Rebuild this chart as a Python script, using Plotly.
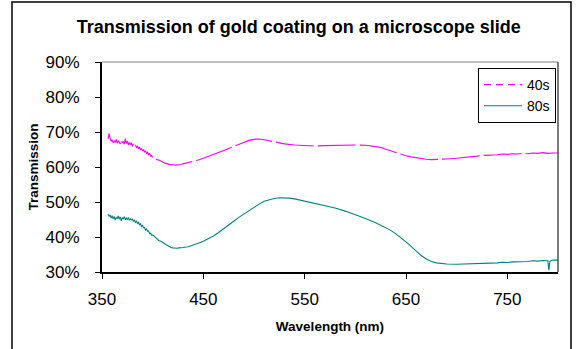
import plotly.graph_objects as go

# ---- data ----
wl_40 = [356, 357, 358, 359, 360, 361, 362, 363, 364, 365, 366, 367, 368, 369, 370,
         371, 372, 373, 374, 375, 376, 377, 378, 379, 380, 381, 382, 383, 384, 385,
         386, 387, 388, 389, 390, 391, 392, 393, 394, 395, 396, 397, 398, 399, 400,
         402, 404, 406, 408, 410, 412, 414, 416, 418, 420, 422, 424, 426, 428, 430,
         435, 440, 445, 450, 455, 460, 465, 470, 475, 480, 485, 490, 495, 500, 505,
         510, 515, 520, 525, 530, 540, 550, 560, 570, 580, 590, 600, 610, 620, 625,
         630, 635, 640, 645, 650, 655, 660, 665, 670, 675, 680, 685, 690, 700, 705,
         710, 715, 720, 725, 730, 735, 740, 745, 750, 755, 760, 765, 770, 775, 780,
         785, 790, 795, 800]
t_40 = [68.0, 69.6, 68.2, 67.3, 67.8, 66.9, 67.5, 67.0, 67.9, 66.8, 67.4, 67.1, 66.6, 67.7, 66.9,
        67.3, 66.5, 68.1, 66.7, 67.4, 66.3, 67.0, 66.4, 66.9, 65.9, 66.6, 65.8, 66.3, 65.6, 65.9,
        65.2, 65.7, 64.9, 65.3, 64.6, 65.0, 64.2, 64.6, 63.9, 64.2, 63.4, 63.9, 63.1, 63.3, 62.8,
        62.6, 62.1, 62.0, 61.6, 61.4, 61.1, 60.9, 60.7, 60.6, 60.7, 60.5, 60.6, 60.6, 60.7, 60.9,
        61.2, 61.6, 62.0, 62.5, 63.0, 63.5, 64.1, 64.7, 65.3, 65.9, 66.5, 67.1, 67.6, 67.9, 68.0,
        67.8, 67.5, 67.1, 66.8, 66.6, 66.3, 66.1, 66.0, 66.1, 66.2, 66.3, 66.3, 66.2, 65.9, 65.6,
        65.1, 64.6, 64.1, 63.6, 63.2, 62.9, 62.6, 62.4, 62.2, 62.1, 62.1, 62.2, 62.3, 62.5, 62.6,
        62.8, 63.0, 63.1, 63.3, 63.3, 63.5, 63.5, 63.7, 63.6, 63.8, 63.7, 63.9, 63.8, 64.0, 63.9,
        64.1, 63.9, 64.0, 64.0]

wl_80 = [356, 357, 358, 359, 360, 361, 362, 363, 364, 365, 366, 367, 368, 369, 370,
         371, 372, 373, 374, 375, 376, 377, 378, 379, 380, 381, 382, 383, 384, 385,
         386, 387, 388, 389, 390, 391, 392, 393, 394, 395, 396, 397, 398, 399, 400,
         402, 404, 406, 408, 410, 412, 414, 416, 418, 420, 422, 424, 426, 428, 430,
         435, 440, 445, 450, 455, 460, 465, 470, 475, 480, 485, 490, 495, 500, 505,
         510, 515, 520, 525, 530, 535, 540, 545, 550, 555, 560, 570, 580, 590, 600,
         610, 620, 630, 635, 640, 645, 650, 655, 660, 665, 670, 675, 680, 685, 690,
         700, 710, 720, 730, 740, 745, 750, 755, 760, 765, 770, 775, 780, 785, 790,
         791, 792, 795, 800]
t_80 = [46.6, 45.9, 46.3, 45.4, 46.1, 45.2, 45.9, 44.8, 45.6, 45.3, 46.0, 45.1, 45.7, 44.6, 45.5,
        45.2, 45.8, 44.9, 45.4, 45.0, 45.6, 44.8, 45.2, 44.9, 45.1, 44.5, 44.8, 44.2, 44.5, 43.9,
        44.2, 43.5, 43.8, 43.0, 43.3, 42.6, 42.7, 42.0, 42.3, 41.6, 41.7, 41.0, 41.1, 40.5, 40.6,
        40.0, 39.5, 39.0, 38.8, 38.4, 38.0, 37.6, 37.3, 37.0, 36.9, 36.8, 36.8, 36.9, 36.9, 37.0,
        37.2, 37.6, 38.2, 38.8, 39.5, 40.3, 41.3, 42.3, 43.4, 44.5, 45.6, 46.6, 47.5, 48.5, 49.4,
        50.2, 50.7, 51.0, 51.2, 51.2, 51.1, 50.9, 50.6, 50.3, 50.0, 49.7, 49.1, 48.3, 47.4, 46.4,
        45.3, 44.1, 42.7, 41.9, 40.9, 39.8, 38.6, 37.3, 35.9, 34.7, 33.7, 33.0, 32.6, 32.4, 32.3,
        32.2, 32.3, 32.3, 32.5, 32.6, 32.8, 32.7, 32.9, 32.9, 33.1, 33.0, 33.2, 33.1, 33.3, 33.2,
        30.5, 33.1, 33.4, 33.4]

x_ticks = [350, 450, 550, 650, 750]
y_ticks = [30, 40, 50, 60, 70, 80, 90]
y_labels = [f"{v}%" for v in y_ticks]

title = "Transmission of gold coating on a microscope slide"
x_title = "Wavelength (nm)"
y_title = "Transmission"
names = ["40s", "80s"]
colors = ["#FF00FF", "#008080"]

FONT = "Liberation Sans, Arial, sans-serif"

fig = go.Figure()
# 40s curve (long dash so it looks mostly continuous like the reference)
fig.add_trace(go.Scatter(x=wl_40, y=t_40, mode="lines", name=names[0], showlegend=False,
                         line=dict(color=colors[0], width=1.1, dash="38px,4px")))
# legend entry for 40s
fig.add_trace(go.Scatter(x=[None], y=[None], mode="lines", name=names[0],
                         line=dict(color=colors[0], width=1.1, dash="7px,5px")))
fig.add_trace(go.Scatter(x=wl_80, y=t_80, mode="lines", name=names[1],
                         line=dict(color=colors[1], width=1.1)))

L, R, T, B = 102, 558, 62, 272
W, H = 580, 349

fig.update_layout(
    width=W, height=H,
    margin=dict(l=L, r=W - R, t=T, b=H - B),
    paper_bgcolor="white", plot_bgcolor="white",
    font=dict(family=FONT, color="black"),
    title=dict(text=f"<b>{title}</b>", x=0.515, xref="container", xanchor="center",
               y=1 - 27 / H, yref="container", yanchor="middle",
               font=dict(size=18, family=FONT, color="black")),
    legend=dict(x=(556 - L) / (R - L), y=(B - 68) / (B - T),
                xanchor="right", yanchor="top", bordercolor="black", borderwidth=1,
                bgcolor="white", font=dict(size=14, family=FONT), traceorder="normal",
                tracegroupgap=0, itemwidth=38, entrywidth=0),
    showlegend=True,
)
fig.update_xaxes(range=[350, 800], tickvals=x_ticks, ticks="outside", ticklen=5,
                 tickcolor="black", tickwidth=1, showline=True, linecolor="black", linewidth=2,
                 showgrid=False, zeroline=False, tickfont=dict(size=17, family=FONT),
                 ticklabelstandoff=6,
                 title=dict(text=f"<b>{x_title}</b>", font=dict(size=13.5, family=FONT),
                            standoff=13))
fig.update_yaxes(range=[30, 90], tickvals=y_ticks, ticktext=y_labels, ticks="outside",
                 ticklen=5, tickcolor="black", tickwidth=1, showline=True, linecolor="black",
                 linewidth=2, showgrid=False, zeroline=False,
                 tickfont=dict(size=17, family=FONT), ticklabelstandoff=12,
                 title=dict(text=f"<b>{y_title}</b>", font=dict(size=13.5, family=FONT),
                            standoff=4))

# grey top/right plot border
fig.add_shape(type="line", xref="paper", yref="paper", x0=0, x1=1, y0=1, y1=1,
              line=dict(color="#808080", width=1))
fig.add_shape(type="line", xref="paper", yref="paper", x0=1, x1=1, y0=0, y1=1,
              line=dict(color="#505050", width=1.5))
# outer chart frame (left, top, right)
fx0 = (12 - L) / (R - L)
fx1 = (571 - L) / (R - L)
fy_top = (B - 2) / (B - T)
fy_bot = (B - 360) / (B - T)
fig.add_shape(type="rect", xref="paper", yref="paper", x0=fx0, x1=fx1, y0=fy_bot, y1=fy_top,
              line=dict(color="black", width=1.5), layer="below")

fig.write_html("out.html")
